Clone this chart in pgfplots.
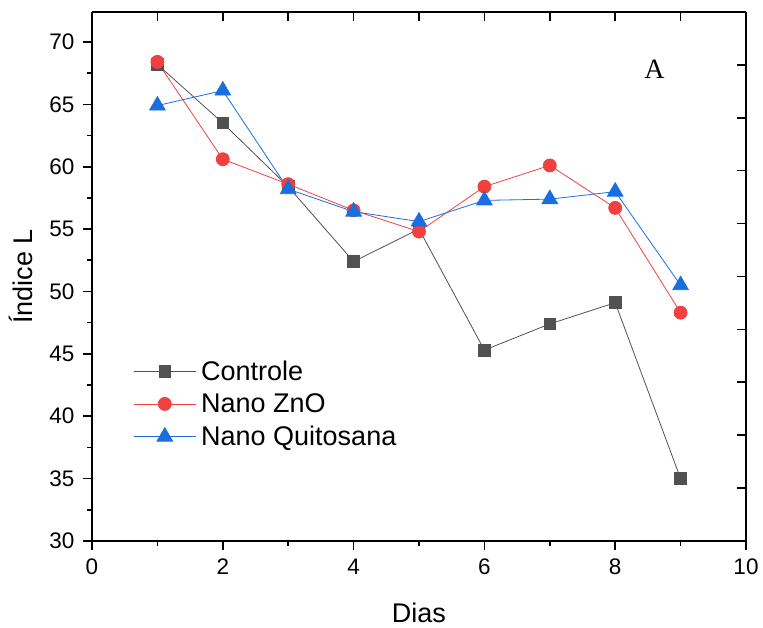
\documentclass[border=0pt]{standalone}
\usepackage{pgfplots}
\pgfplotsset{compat=1.18}
\usepackage{fontspec}
\setmainfont{Liberation Sans}
\newfontfamily\serifA{Liberation Serif}
\definecolor{cgray}{HTML}{515151}
\definecolor{cred}{HTML}{F14040}
\definecolor{cblue}{HTML}{1A6FDF}
\begin{document}
\begin{tikzpicture}[x=1pt,y=1pt]
\begin{axis}[
  name=ax,
  scale only axis, width=654pt, height=529pt,
  xmin=0, xmax=10, ymin=30, ymax=72.4,
  axis x line*=bottom, axis y line*=left,
  axis line style={-, line width=2pt},
  xtick={0,2,...,10}, minor x tick num=1,
  ytick={30,35,...,70}, minor y tick num=1,
  tick align=outside,
  major tick length=9pt, minor tick length=5pt,
  every tick/.style={black, line width=1.6pt},
  /pgf/number format/assume math mode=true,
  tick label style={font=\fontsize{22.5}{26}\selectfont},
  xticklabel style={yshift=-5pt},
  yticklabel style={xshift=-5pt},
  xlabel={Dias}, ylabel={Índice L},
  label style={font=\fontsize{27}{31}\selectfont},
  xlabel style={yshift=-22pt},
  ylabel style={yshift=10pt},
  legend style={at={(rel axis cs:0.063,0.345)}, anchor=north west, draw=none, fill=none,
    font=\fontsize{27}{31}\selectfont, row sep=8pt, inner sep=0pt,
    nodes={inner xsep=5pt}},
  legend cell align=left,
  legend image code/.code={\draw[mark repeat=2,mark phase=2] plot coordinates {(0pt,0pt) (31pt,0pt) (62pt,0pt)};},
  clip=false,
]
\addplot[cgray, line width=0.8pt, mark=square*, mark size=5.8pt, mark options={solid, fill=cgray, draw=cgray}]
  coordinates {(1,68.2) (2,63.5) (3,58.4) (4,52.4) (5,55.0) (6,45.3) (7,47.4) (8,49.1) (9,35.0)};
\addlegendentry{Controle}
\addplot[cred, line width=0.8pt, mark=*, mark size=6.5pt, mark options={solid, fill=cred, draw=cred}]
  coordinates {(1,68.4) (2,60.6) (3,58.6) (4,56.5) (5,54.8) (6,58.4) (7,60.1) (8,56.7) (9,48.3)};
\addlegendentry{Nano ZnO}
\addplot[cblue, line width=0.8pt, mark=triangle*, mark size=9pt, mark options={solid, fill=cblue, draw=cblue}]
  coordinates {(1,64.9) (2,66.1) (3,58.2) (4,56.4) (5,55.6) (6,57.3) (7,57.4) (8,58.0) (9,50.5)};
\addlegendentry{Nano Quitosana}
\node[font=\serifA\fontsize{28}{32}\selectfont] at (axis cs:8.6,67.8) {A};
\end{axis}
\begin{axis}[
  scale only axis, width=654pt, height=529pt,
  at={(ax.south west)}, anchor=south west,
  xmin=0, xmax=10, ymin=0, ymax=10,
  axis x line*=top, axis y line*=right,
  axis line style={-, line width=2pt},
  xtick={0,...,10}, ytick={0,...,10},
  xticklabels={}, yticklabels={},
  tick align=inside, major tick length=9pt,
  every tick/.style={black, line width=1.6pt},
]
\end{axis}
\path (ax.north east) ++(17pt,12pt) coordinate (ne);
\path (ax.south west) ++(-92pt,-87pt) coordinate (sw);
\path (sw) rectangle (ne);
\end{tikzpicture}
\end{document}
